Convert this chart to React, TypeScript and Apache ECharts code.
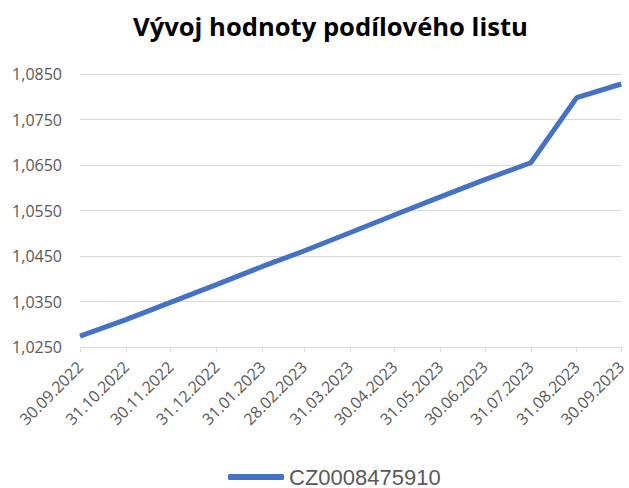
import React, { useEffect, useRef } from "react";
import * as echarts from "echarts";

const dates = [
  "30.09.2022", "31.10.2022", "30.11.2022", "31.12.2022", "31.01.2023", "28.02.2023",
  "31.03.2023", "30.04.2023", "31.05.2023", "30.06.2023", "31.07.2023", "31.08.2023", "30.09.2023",
];
const values = [
  1.0274, 1.0310, 1.0348, 1.0387, 1.0427, 1.0461,
  1.0501, 1.0540, 1.0580, 1.0618, 1.0655, 1.0798, 1.0828,
];
const seriesName = "CZ0008475910";
const titleText = "Vývoj hodnoty podílového listu";

const DAY = 86400000;
const parse = (s: string) => {
  const [d, m, y] = s.split(".").map(Number);
  return Date.UTC(y, m - 1, d) / DAY;
};
const pad = (n: number) => (n < 10 ? "0" + n : "" + n);
const fmtDate = (v: number) => {
  const d = new Date(Math.round(v) * DAY);
  return pad(d.getUTCDate()) + "." + pad(d.getUTCMonth() + 1) + "." + d.getUTCFullYear();
};

export default function App() {
  const ref = useRef<HTMLDivElement>(null);
  useEffect(() => {
    if (!ref.current) return;
    const chart = echarts.init(ref.current, null, { renderer: "svg" });
    const days = dates.map(parse);
    const font = "'Open Sans', 'Noto Sans', sans-serif";
    chart.setOption({
      animation: false,
      title: {
        text: titleText,
        left: 128,
        top: 8,
        textStyle: { fontFamily: font, fontSize: 25.6, fontWeight: "bold", color: "#000" },
      },
      legend: {
        top: 466,
        left: 228,
        padding: 0,
        icon: "roundRect",
        itemWidth: 56,
        itemHeight: 6,
        itemGap: 10,
        textStyle: {
          fontFamily: "'Liberation Sans', Arial, sans-serif",
          fontSize: 22,
          lineHeight: 18,
          color: "#595959",
        },
        data: [seriesName],
      },
      grid: { left: 80, right: 5, top: 74, bottom: 141, containLabel: false },
      xAxis: {
        type: "value",
        min: days[0],
        max: days[days.length - 1],
        axisLine: { show: true, onZero: false, lineStyle: { color: "#d9d9d9", width: 1 } },
        axisTick: { show: true, customValues: days, length: 5, lineStyle: { color: "#d9d9d9" } },
        splitLine: { show: false },
        axisLabel: {
          customValues: days,
          rotate: 45,
          formatter: (v: number) => fmtDate(v),
          fontFamily: font,
          fontSize: 16,
          color: "#595959",
          margin: 17,
          hideOverlap: false,
        },
      },
      yAxis: {
        type: "value",
        min: 1.025,
        max: 1.085,
        interval: 0.01,
        axisLine: { show: false },
        axisTick: { show: false },
        splitLine: { lineStyle: { color: "#d9d9d9", width: 1 } },
        axisLabel: {
          formatter: (v: number) => v.toFixed(4).replace(".", ","),
          fontFamily: font,
          fontSize: 16,
          color: "#595959",
          margin: 18,
        },
      },
      series: [
        {
          name: seriesName,
          type: "line",
          data: days.map((t, i) => [t, values[i]]),
          showSymbol: false,
          symbol: "none",
          lineStyle: { color: "#4472C4", width: 5 },
          itemStyle: { color: "#4472C4" },
        },
      ],
    });
    return () => chart.dispose();
  }, []);
  return (
    <div
      ref={ref}
      style={{ position: "fixed", left: 0, top: 0, width: 629, height: 488, background: "#fff" }}
    />
  );
}
